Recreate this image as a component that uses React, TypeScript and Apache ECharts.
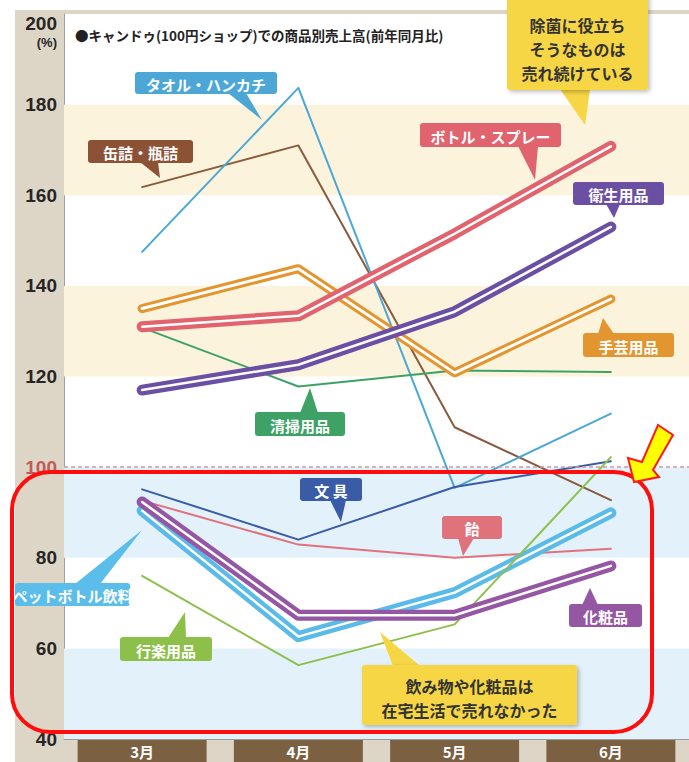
import React, { useEffect, useRef } from "react";
import * as echarts from "echarts";

// ---- data ----
const months = ["3月", "4月", "5月", "6月"];
const yTicks = [40, 60, 80, 100, 120, 140, 160, 180, 200];
const towel = [147.5, 183.7, 95.4, 111.8];
const canned = [161.8, 171.0, 108.8, 92.7];
const bottleSpray = [131.0, 133.4, 151.5, 170.8];
const hygiene = [117.0, 122.6, 134.3, 153.0];
const handicraft = [135.0, 143.8, 120.8, 137.1];
const cleaning = [130.8, 117.8, 121.3, 121.0];
const stationery = [95.1, 84.0, 95.6, 101.3];
const candy = [92.6, 82.9, 80.0, 82.0];
const petBottle = [90.4, 62.6, 72.3, 89.9];
const cosmetics = [92.3, 67.3, 67.3, 78.2];
const leisure = [76.0, 56.3, 65.3, 102.2];
const blueBands = [[40, 60], [80, 100]];
const creamBands = [[120, 140], [160, 180]];
const baseLine = 100;

const JP = '"Noto Sans CJK JP", "Noto Sans", sans-serif';
const NUM = '"Liberation Sans Narrow", "Liberation Sans", Arial, sans-serif';

type Tag = {
  text: string;
  color: string;
  box: [number, number, number, number];
  ptr: number[][];
};

const tags: Tag[] = [
  { text: "タオル・ハンカチ", color: "#4ca7d6", box: [135, 72, 142, 22], ptr: [[228, 93], [246, 93], [262, 120]] },
  { text: "缶詰・瓶詰", color: "#8b5236", box: [88, 140, 105, 23], ptr: [[140, 162], [158, 162], [160, 178]] },
  { text: "清掃用品", color: "#3ea266", box: [255, 412, 90, 24], ptr: [[300, 413], [318, 413], [310, 388]] },
  { text: "ボトル・スプレー", color: "#e0636e", box: [420, 123, 141, 24], ptr: [[518, 146], [538, 146], [535, 180]] },
  { text: "衛生用品", color: "#6b4fa3", box: [573, 182, 91, 23], ptr: [[606, 204], [620, 204], [614, 218]] },
  { text: "手芸用品", color: "#e3952f", box: [583, 333, 91, 24], ptr: [[598, 334], [614, 334], [603, 318]] },
  { text: "文 具", color: "#3a5ba5", box: [300, 478, 62, 23], ptr: [[330, 500], [346, 500], [341, 522]] },
  { text: "飴", color: "#e0727c", box: [442, 516, 60, 23], ptr: [[458, 538], [474, 538], [463, 556]] },
  { text: "ペットボトル飲料", color: "#5bbde9", box: [15, 583, 115, 23], ptr: [[75, 584], [100, 584], [142, 530]] },
  { text: "行楽用品", color: "#8cc04b", box: [120, 637, 92, 24], ptr: [[168, 638], [186, 638], [185, 612]] },
  { text: "化粧品", color: "#9557a3", box: [569, 604, 73, 23], ptr: [[582, 605], [598, 605], [590, 588]] },
];

type Note = { lines: string[]; box: [number, number, number, number]; ptr: number[][]; ys: number[] };
const notes: Note[] = [
  { lines: ["除菌に役立ち", "そうなものは", "売れ続けている"], box: [507, -6, 141, 96], ptr: [[560, 89], [590, 89], [585, 125]], ys: [25, 49, 73] },
  { lines: ["飲み物や化粧品は", "在宅生活で売れなかった"], box: [362, 665, 215, 60], ptr: [[393, 666], [420, 666], [380, 632]], ys: [686, 710] },
];

const ZT = 100;

function tagGraphic(t: Tag) {
  const [x, y, w, h] = t.box;
  return [
    { type: "polygon", z: ZT, shape: { points: t.ptr }, style: { fill: t.color } },
    { type: "rect", z: ZT, shape: { x, y, width: w, height: h, r: 3 }, style: { fill: t.color } },
    {
      type: "text",
      z: ZT + 1,
      x: x + w / 2,
      y: y + h / 2 + 1,
      style: { text: t.text, fill: "#fff", font: `bold 15px ${JP}`, align: "center", verticalAlign: "middle", textAlign: "center", textVerticalAlign: "middle" },
    },
  ];
}

function noteGraphic(n: Note) {
  const [x, y, w, h] = n.box;
  return [
    { type: "polygon", z: ZT, shape: { points: n.ptr }, style: { fill: "#f6d645" } },
    {
      type: "rect",
      z: ZT,
      shape: { x, y, width: w, height: h, r: 3 },
      style: { fill: "#f6d645", shadowBlur: 4, shadowColor: "rgba(0,0,0,0.25)", shadowOffsetX: 2, shadowOffsetY: 2 },
    },
    ...n.lines.map((l, i) => ({
      type: "text",
      z: ZT + 1,
      x: x + w / 2,
      y: n.ys[i],
      style: { text: l, fill: "#333", font: `bold 16px ${JP}`, align: "center", verticalAlign: "middle", textAlign: "center", textVerticalAlign: "middle" },
    })),
  ];
}

function thin(name: string, data: number[], color: string, z = 3) {
  return {
    name,
    type: "line",
    data,
    z,
    showSymbol: false,
    silent: true,
    lineStyle: { color, width: 2, cap: "round", join: "round" },
  };
}

function thick(name: string, data: number[], color: string, outer: number, inner: number, z: number) {
  return [
    {
      name,
      type: "line",
      data,
      z,
      showSymbol: false,
      silent: true,
      lineStyle: { color, width: outer, cap: "round", join: "round" },
    },
    {
      name: name + "_inner",
      type: "line",
      data,
      z,
      showSymbol: false,
      silent: true,
      lineStyle: { color: "#ffffff", width: inner, cap: "round", join: "round" },
    },
  ];
}

export default function App() {
  const ref = useRef<HTMLDivElement>(null);
  useEffect(() => {
    if (!ref.current) return;
    const chart = echarts.init(ref.current, null, { renderer: "svg" });
    const option: any = {
      animation: false,
      backgroundColor: "#ffffff",
      grid: { left: 64, top: 14, width: 628, height: 728, show: true, backgroundColor: "#ffffff", borderWidth: 0 },
      xAxis: {
        type: "category",
        data: months,
        boundaryGap: true,
        axisLine: { show: true, lineStyle: { color: "#9a9a9a", width: 1 } },
        axisTick: { show: true, inside: true, length: 5, lineStyle: { color: "#9a9a9a" } },
        axisLabel: {
          margin: 1,
          color: "#ffffff",
          fontFamily: JP,
          fontWeight: "bold",
          fontSize: 15,
          backgroundColor: "#7b6142",
          width: 129,
          height: 22,
          lineHeight: 22,
          align: "center",
        },
      },
      yAxis: {
        type: "value",
        min: 40,
        max: 200,
        interval: 20,
        splitLine: { show: false },
        axisLine: { show: true, lineStyle: { color: "#a0a0a0", width: 1 } },
        axisTick: { show: false },
        axisLabel: {
          showMaxLabel: false,
          margin: 7,
          fontFamily: NUM,
          fontWeight: "bold",
          fontSize: 19,
          color: (v: any) => (Number(v) === baseLine ? "#c25a5a" : "#262626"),
          formatter: (v: number) => (yTicks.includes(v) ? String(v) : ""),
        },
      },
      graphic: [
        { type: "rect", z: -100, shape: { x: 15, y: 10, width: 674, height: 752 }, style: { fill: "#ddd6c7" }, silent: true },
        { type: "text", z: ZT, x: 57, y: 23, style: { text: "200", fill: "#262626", font: `bold 19px ${NUM}`, align: "right", verticalAlign: "middle", textAlign: "right", textVerticalAlign: "middle" } },
        { type: "text", z: ZT, x: 57, y: 42, style: { text: "(%)", fill: "#262626", font: `bold 13px ${NUM}`, align: "right", verticalAlign: "middle", textAlign: "right", textVerticalAlign: "middle" } },
        { type: "text", z: ZT, x: 75, y: 35, style: { text: "●キャンドゥ(100円ショップ)での商品別売上高(前年同月比)", fill: "#222", font: `bold 13.5px ${JP}`, verticalAlign: "middle", textVerticalAlign: "middle" } },
        ...tags.flatMap(tagGraphic),
        ...notes.flatMap(noteGraphic),
        {
          type: "rect",
          z: 120,
          shape: { x: 12, y: 472, width: 640, height: 260, r: 38 },
          style: { fill: "none", stroke: "#ff0d0d", lineWidth: 4 },
        },
        {
          type: "polygon",
          z: 120,
          shape: { points: [[634, 482], [628, 458], [642, 462], [658, 425], [673, 435], [653, 470], [659, 477]] },
          style: { fill: "#ffff00", stroke: "#ff1a1a", lineWidth: 2, lineJoin: "miter" },
        },
      ],
      series: [
        {
          name: "bands",
          type: "line",
          data: [],
          z: 1,
          silent: true,
          markArea: {
            silent: true,
            itemStyle: { color: "#e3f1fb" },
            data: [
              ...blueBands.map(([a, b]) => [{ yAxis: a, itemStyle: { color: "#e3f1fb" } }, { yAxis: b }]),
              ...creamBands.map(([a, b]) => [{ yAxis: a, itemStyle: { color: "#fcf3dc" } }, { yAxis: b }]),
            ],
          },
          markLine: {
            silent: true,
            symbol: "none",
            label: { show: false },
            lineStyle: { color: "#c99aa6", type: [4, 3], width: 1.5 },
            data: [{ yAxis: baseLine }],
          },
        },
        thin("缶詰・瓶詰", canned, "#8a5a3e"),
        thin("タオル・ハンカチ", towel, "#4ca7d6"),
        thin("清掃用品", cleaning, "#3ea266"),
        thin("文具", stationery, "#3a5ba5"),
        thin("飴", candy, "#e0727c"),
        ...thick("手芸用品", handicraft, "#e3952f", 9, 3, 4),
        ...thick("ボトル・スプレー", bottleSpray, "#e0636e", 11, 2.5, 5),
        ...thick("衛生用品", hygiene, "#6b4fa3", 11, 2.5, 6),
        ...thick("ペットボトル飲料", petBottle, "#5bbbe8", 11, 2.5, 7),
        thin("行楽用品", leisure, "#8cc04b", 8),
        ...thick("化粧品", cosmetics, "#9557a3", 11, 2.5, 9),
      ],
    };
    chart.setOption(option);
    return () => chart.dispose();
  }, []);
  return (
    <div
      ref={ref}
      style={{ position: "fixed", left: 0, top: 0, width: 689, height: 762, background: "#fff" }}
    />
  );
}
